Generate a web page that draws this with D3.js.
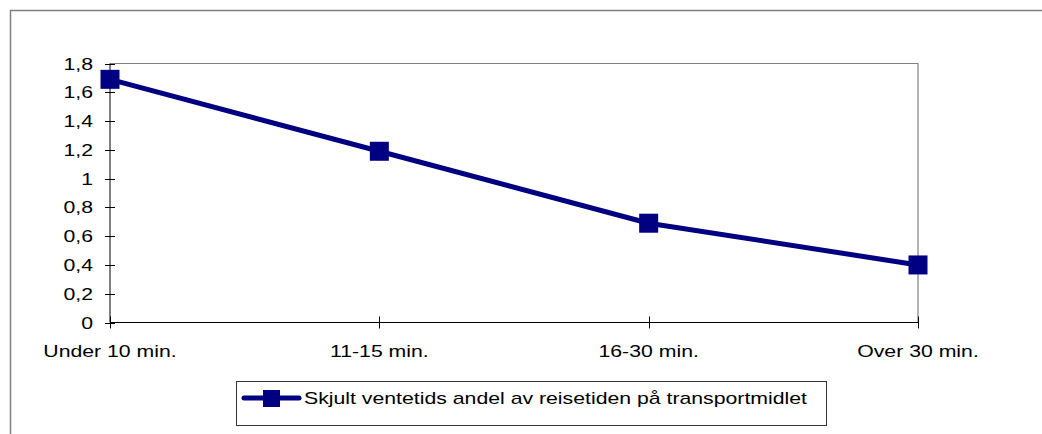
<!DOCTYPE html>
<html>
<head>
<meta charset="utf-8">
<script src="https://cdn.jsdelivr.net/npm/d3@7"></script>
<style>
  body { margin: 0; background: #fff; }
  svg { display: block; font-family: "Liberation Sans", Arial, sans-serif; }
</style>
</head>
<body>
<div id="chart"></div>
<script>
// data
const categories = ["Under 10 min.", "11-15 min.", "16-30 min.", "Over 30 min."];
const values = [1.69, 1.19, 0.69, 0.40];
const yTicks = [0, 0.2, 0.4, 0.6, 0.8, 1, 1.2, 1.4, 1.6, 1.8];
const seriesName = "Skjult ventetids andel av reisetiden på transportmidlet";

const width = 1042, height = 434;
const color = "#000080";
const stretch = 1.25; // the reference text is a bit wide

const svg = d3.select("#chart").append("svg")
    .attr("width", width)
    .attr("height", height);

// outer chart border (runs off the image to the right and bottom)
svg.append("path")
    .attr("d", "M10.5,434 V10.5 H1042")
    .attr("fill", "none")
    .attr("stroke", "#808080")
    .attr("stroke-width", 1.5);

const x = d3.scalePoint()
    .domain(categories)
    .range([110, 918]);

const y = d3.scaleLinear()
    .domain([0, 1.8])
    .range([322.5, 63.5]);

// plot area top/right border
svg.append("path")
    .attr("d", `M${x.range()[0]},${y(1.8)} H${x.range()[1]} V${y(0)}`)
    .attr("fill", "none")
    .attr("stroke", "#808080")
    .attr("stroke-width", 1.2);

// helper for stretched text
function label(g, tx, ty, txt, anchor) {
    g.append("text")
        .attr("transform", `translate(${tx},${ty}) scale(${stretch},1)`)
        .attr("text-anchor", anchor)
        .style("font-size", "17px")
        .style("fill", "#000")
        .text(txt);
}

// y axis
const yAxis = svg.append("g");
yAxis.append("line")
    .attr("x1", 110).attr("x2", 110)
    .attr("y1", y(1.8)).attr("y2", y(0))
    .attr("stroke", "#000");
yTicks.forEach(t => {
    yAxis.append("line")
        .attr("x1", 105).attr("x2", 115)
        .attr("y1", Math.round(y(t)) + 0.5).attr("y2", Math.round(y(t)) + 0.5)
        .attr("stroke", "#000");
    label(yAxis, 93, y(t) + 6, String(t).replace(".", ","), "end");
});

// x axis
const xAxis = svg.append("g");
xAxis.append("line")
    .attr("x1", x.range()[0]).attr("x2", x.range()[1])
    .attr("y1", y(0)).attr("y2", y(0))
    .attr("stroke", "#000");
categories.forEach(c => {
    xAxis.append("line")
        .attr("x1", Math.round(x(c)) + 0.5).attr("x2", Math.round(x(c)) + 0.5)
        .attr("y1", y(0) - 6).attr("y2", y(0) + 6)
        .attr("stroke", "#000");
    label(xAxis, x(c), 357, c, "middle");
});

// line
const line = d3.line()
    .x((d, i) => x(categories[i]))
    .y(d => y(d));

svg.append("path")
    .datum(values)
    .attr("d", line)
    .attr("fill", "none")
    .attr("stroke", color)
    .attr("stroke-width", 5)
    .attr("stroke-linejoin", "round");

const m = 19;
svg.selectAll(".marker")
    .data(values)
    .enter()
    .append("rect")
    .attr("class", "marker")
    .attr("x", (d, i) => x(categories[i]) - m / 2)
    .attr("y", d => y(d) - m / 2)
    .attr("width", m)
    .attr("height", m)
    .attr("fill", color);

// legend
const legend = svg.append("g");
legend.append("rect")
    .attr("x", 236.5).attr("y", 381.5)
    .attr("width", 590).attr("height", 44)
    .attr("fill", "#fff")
    .attr("stroke", "#333");
legend.append("line")
    .attr("x1", 244).attr("x2", 299)
    .attr("y1", 398).attr("y2", 398)
    .attr("stroke", color)
    .attr("stroke-width", 5)
    .attr("stroke-linecap", "round");
legend.append("rect")
    .attr("x", 263).attr("y", 390)
    .attr("width", 17).attr("height", 17)
    .attr("fill", color);
label(legend, 304, 404, seriesName, "start");
</script>
</body>
</html>
